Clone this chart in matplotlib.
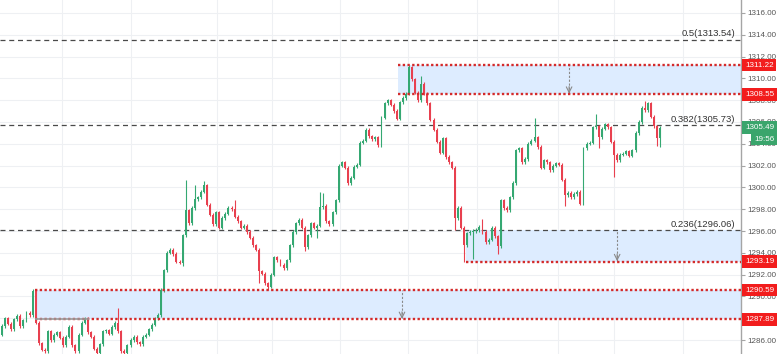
import matplotlib
matplotlib.use("Agg")
import matplotlib.pyplot as plt
from matplotlib.patches import Rectangle
from matplotlib.transforms import blended_transform_factory
import numpy as np

plt.rcParams['font.family'] = ['Liberation Sans', 'DejaVu Sans']

# ---------------- data ----------------
first_open = 1286.5
closes = [
    1287.3, 1288.0, 1287.5, 1287.0, 1287.9, 1288.2, 1287.3, 1287.8, 1288.5, 1288.3,
    1290.5, 1287.6, 1285.7, 1285.1, 1285.0, 1286.8, 1286.0, 1286.5, 1286.7, 1286.2,
    1285.5, 1286.3, 1287.2, 1285.5, 1285.0, 1286.5, 1287.6, 1288.0, 1286.7, 1286.3,
    1285.2, 1284.8, 1285.6, 1286.8, 1286.9, 1286.6, 1287.2, 1287.6, 1286.8, 1285.0,
    1284.8, 1285.5, 1286.0, 1286.3, 1285.8, 1285.6, 1286.3, 1286.5, 1287.0, 1287.4,
    1288.0, 1288.3, 1290.6, 1292.4, 1294.0, 1294.3, 1293.9, 1293.2, 1293.1, 1295.6,
    1297.9, 1296.7, 1298.1, 1298.9, 1299.1, 1299.6, 1300.2, 1298.4, 1297.5, 1296.6,
    1297.7, 1296.3, 1297.2, 1297.6, 1298.1, 1298.0, 1297.3, 1296.9, 1296.3, 1296.5,
    1295.9, 1295.4, 1294.7, 1294.3, 1292.3, 1292.1, 1291.2, 1290.9, 1292.0,
    1293.6, 1293.3, 1292.9, 1292.6, 1293.3, 1294.7, 1295.9, 1296.7, 1297.0,
    1296.3, 1294.5, 1295.6, 1296.7, 1296.3, 1296.5, 1298.2, 1298.3, 1296.9,
    1296.6, 1297.7, 1298.8, 1302.0, 1302.3, 1301.8, 1300.4, 1300.9, 1301.9, 1302.1,
    1304.1, 1304.3, 1305.3, 1304.7, 1304.4, 1304.6, 1303.9, 1306.4, 1307.7, 1308.0,
    1307.6, 1307.0, 1306.3, 1307.8, 1308.2, 1308.6, 1311.0, 1309.9, 1308.7,
    1308.0, 1309.5, 1308.6, 1307.7, 1306.2, 1305.3, 1304.2, 1303.2, 1304.5,
    1302.8, 1302.3, 1301.8, 1297.2, 1298.1, 1296.3, 1294.7, 1295.8, 1295.9,
    1296.0, 1296.1, 1296.4, 1295.9, 1295.0, 1295.2, 1296.3, 1295.5, 1294.6,
    1298.8, 1298.1, 1297.9, 1299.1, 1300.4, 1303.4, 1303.6, 1302.3, 1302.6,
    1304.0, 1304.3, 1304.6, 1303.7, 1301.8, 1302.5, 1302.3, 1301.6, 1302.0,
    1302.2, 1302.1, 1300.7, 1299.3, 1299.5, 1299.1, 1299.4, 1299.6, 1298.5,
    1303.6, 1304.0, 1304.1, 1305.5, 1305.6, 1304.6, 1305.4, 1305.8, 1305.5,
    1304.2, 1303.0, 1302.5, 1303.0, 1303.1, 1303.3, 1302.9, 1303.4, 1305.0,
    1306.0, 1307.3, 1307.1, 1307.7, 1306.5, 1305.6, 1304.5, 1305.49,
]
opens = [first_open] + closes[:-1]

# notable wick extremes (candle index -> price)
wick_highs = {10: 1290.7, 38: 1288.9, 60: 1300.7, 63: 1300.2, 66: 1300.6,
              76: 1298.8, 104: 1299.6, 105: 1299.5, 133: 1311.22, 137: 1310.2,
              157: 1297.1, 174: 1306.4, 194: 1306.7, 210: 1307.9}
wick_lows = {31: 1284.5, 59: 1292.8, 84: 1291.2, 87: 1290.6, 99: 1294.2,
             103: 1295.4, 148: 1296.1, 151: 1293.19, 154: 1293.4, 162: 1293.9,
             184: 1298.3, 195: 1303.6, 200: 1301.0, 214: 1303.8, 215: 1303.7}

fib_levels = [1313.54, 1305.73, 1296.06]
fib_labels = ["0.5(1313.54)", "0.382(1305.73)", "0.236(1296.06)"]

zone_lows = [1308.55, 1293.19, 1287.89]
zone_highs = [1311.22, 1296.06, 1290.59]
zone_start = [129.3, 151.6, 10.8]
zone_mid = [185.3, 201.0, 130.7]
zone_top_border = [True, False, True]

red_labels = [1311.22, 1308.55, 1293.19, 1290.59, 1287.89]
last_price = 1305.49
countdown = "19:56"

# ---------------- figure ----------------
W, H = 778, 354
fig = plt.figure(figsize=(W / 100, H / 100), dpi=100)
ax = fig.add_axes([0, 0, 741 / W, 1])
ax.set_xlim(-0.653, 241.47)
ax.set_ylim(1284.72, 1317.19)

UP = '#35a872'
DN = '#e8404f'

# grid
for yv in np.arange(1286, 1317, 2):
    ax.axhline(yv, color='#eef0f3', lw=0.8, zorder=0)
for xv in [19.6, 42.2, 70.3, 88.2, 110.5, 132.7, 155.2, 181.7, 200.0, 222.5]:
    ax.axvline(xv, color='#eef0f3', lw=0.8, zorder=0)

# zones
for lo, hi, x0, xm, topb in zip(zone_lows, zone_highs, zone_start, zone_mid, zone_top_border):
    ax.add_patch(Rectangle((x0, lo), 300, hi - lo, fc='#ddecff', ec='none', zorder=1))
    ax.hlines(lo, x0, 300, colors='#d42a2a', lw=1.7, linestyles=(0, (1, 1)), zorder=4)
    if topb:
        ax.hlines(hi, x0, 300, colors='#d42a2a', lw=1.7, linestyles=(0, (1, 1)), zorder=4)
    ax.vlines(xm, lo + 0.1, hi, colors='#8a8a8a', lw=0.8, linestyles=(0, (2, 1.5)), zorder=2)
    ax.annotate('', xy=(xm, lo + 0.05), xytext=(xm, lo + 0.7),
                arrowprops=dict(arrowstyle='->', color='#8a8a8a', lw=0.8,
                                shrinkA=0, shrinkB=0), zorder=2)
# short grey segment under the lower zone's left part
ax.hlines(zone_lows[2], zone_start[2], 28.5, colors='#9a9a9a', lw=1.2, zorder=4.5)

# fib lines
for lv, lb in zip(fib_levels, fib_labels):
    ax.axhline(lv, color='#4a4a4a', lw=0.9, ls=(0, (4, 3)), zorder=2)
    ax.text(239.6, lv + 0.12, lb, ha='right', va='bottom', fontsize=6.8,
            color='#333333', zorder=5)

# candles
for i, (o, c) in enumerate(zip(opens, closes)):
    col = UP if c >= o else DN
    top = max(o, c)
    bot = min(o, c)
    hi = max(wick_highs.get(i, top + 0.15), top)
    lo = min(wick_lows.get(i, bot - 0.15), bot)
    ax.vlines(i, lo, hi, colors=col, lw=0.8, zorder=3)
    h = max(top - bot, 0.1)
    ax.bar(i, h, bottom=bot, width=0.64, color=col, linewidth=0, zorder=3)

# axis styling
ax.xaxis.set_visible(False)
for s in ['top', 'left', 'bottom']:
    ax.spines[s].set_visible(False)
ax.spines['right'].set_color('#a5a5a5')
ax.spines['right'].set_linewidth(1.0)
ax.yaxis.tick_right()
ticks = np.arange(1286, 1317, 2)
ax.set_yticks(ticks)
ax.set_yticklabels([f"{v:.2f}" for v in ticks])
ax.tick_params(axis='y', length=3, width=0.8, color='#a5a5a5', pad=1.5,
               labelsize=5.8, labelcolor='#555555')

tr = blended_transform_factory(ax.transAxes, ax.transData)
for v in red_labels:
    ax.text(1 + 4 / 741, v, f"{v:.2f}", transform=tr, ha='left', va='center',
            fontsize=5.8, color='white', clip_on=False, zorder=10,
            bbox=dict(boxstyle='square,pad=0.35', fc='#f21d1d', ec='none'))
ax.text(1 + 4 / 741, last_price, f"{last_price:.2f}", transform=tr, ha='left',
        va='center', fontsize=5.8, color='white', clip_on=False, zorder=10,
        bbox=dict(boxstyle='square,pad=0.35', fc='#3aa56c', ec='none'))
ax.text(1 + 13 / 741, last_price - 1.05, countdown, transform=tr, ha='left',
        va='center', fontsize=5.8, color='white', clip_on=False, zorder=10,
        bbox=dict(boxstyle='square,pad=0.35', fc='#3aa56c', ec='none'))

fig.savefig('out.png', dpi=100)
